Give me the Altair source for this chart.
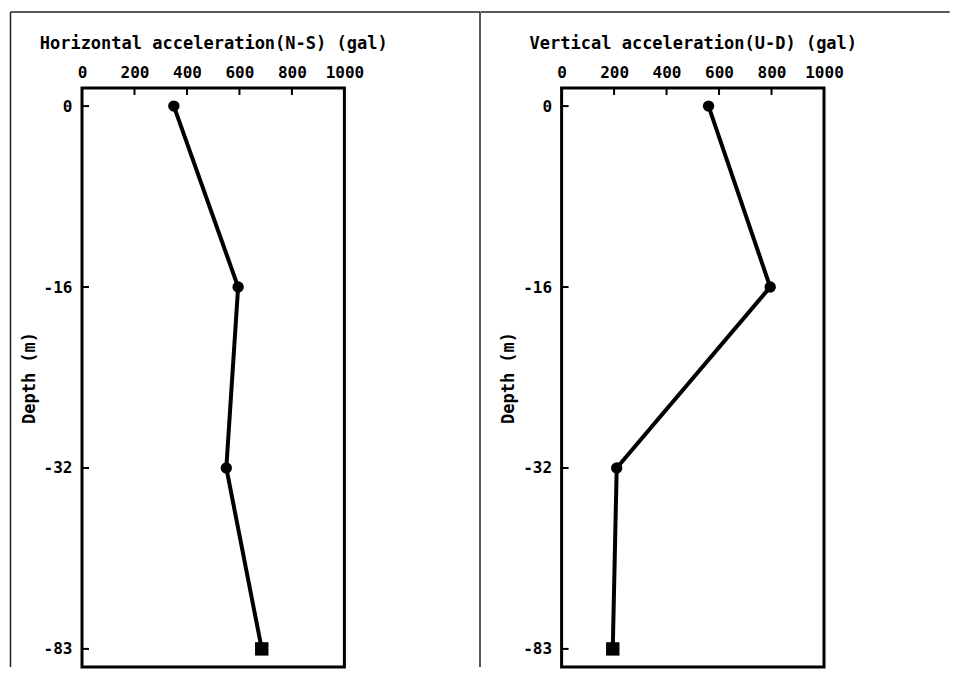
import altair as alt
import pandas as pd

depth_labels = ["0", "-16", "-32", "-83"]
ns_values = [350, 595, 550, 685]
ud_values = [560, 795, 210, 195]
x_ticks = [0, 200, 400, 600, 800, 1000]
inner_ticks = [200, 400, 600, 800]

FONT = "DejaVu Sans Mono"
W, H = 262.4, 579


def panel(values, title, frame_parts):
    df = pd.DataFrame({"depth": depth_labels, "acc": values, "idx": list(range(len(values)))})
    xs = alt.X("acc:Q", scale=alt.Scale(domain=[0, 1000], nice=False, zero=False),
               axis=alt.Axis(orient="top", values=x_ticks, title=title, labelPadding=8,
                             titlePadding=12, labelFlush=False, format="d"))
    ys = alt.Y("depth:N", sort=depth_labels, scale=alt.Scale(type="point", padding=0.1),
               axis=alt.Axis(title="Depth (m)", labelPadding=10, titlePadding=5))
    base = alt.Chart(df)
    line = base.mark_line(color="black", strokeWidth=4).encode(x=xs, y=ys, order="idx:Q")
    circ = base.transform_filter("datum.idx < 3").mark_point(
        filled=True, color="black", opacity=1, shape="circle", size=130).encode(
        x="acc:Q", y=alt.Y("depth:N", sort=depth_labels))
    sq = base.transform_filter("datum.idx == 3").mark_point(
        filled=True, color="black", opacity=1, shape="square", size=180).encode(
        x="acc:Q", y=alt.Y("depth:N", sort=depth_labels))
    xt = alt.Chart(pd.DataFrame({"acc": inner_ticks})).mark_rule(color="black", strokeWidth=2).encode(
        x="acc:Q", y=alt.value(0), y2=alt.value(7))
    yt = base.mark_rule(color="black", strokeWidth=2).encode(
        y=alt.Y("depth:N", sort=depth_labels), x=alt.value(0), x2=alt.value(7))
    one = alt.Data(values=[{"a": 1}])
    frames = []
    for kind, a, b, c in frame_parts:
        if kind == "h":
            frames.append(alt.Chart(one).mark_rule(color="#222", strokeWidth=1.5).encode(
                x=alt.value(a), x2=alt.value(b), y=alt.value(c)))
        else:
            frames.append(alt.Chart(one).mark_rule(color="#222", strokeWidth=1.5).encode(
                x=alt.value(a), y=alt.value(b), y2=alt.value(c)))
    return alt.layer(*frames, line, circ, sq, xt, yt).properties(width=W, height=H)


left = panel(ns_values, "Horizontal acceleration(N-S) (gal)",
             [("h", -71.5, 398, -76), ("v", -71.5, -76, 579), ("v", 398, -76, 579)])
right = panel(ud_values, "Vertical acceleration(U-D) (gal)",
              [("h", -81, 388, -76)])

chart = alt.hconcat(left, right, spacing=216.6, bounds="flush").properties(
    padding={"left": 0, "top": 1, "right": 0, "bottom": 0}
).configure_view(stroke="black", strokeWidth=3).configure_axis(
    domain=False, ticks=False, grid=False,
    labelFont=FONT, titleFont=FONT, labelFontSize=16, titleFontSize=17,
    labelFontWeight="bold", titleFontWeight="bold", labelColor="black", titleColor="black"
).configure_axisY(labelAngle=0)

chart.save("out.html", embed_options={"renderer": "svg", "actions": False})
